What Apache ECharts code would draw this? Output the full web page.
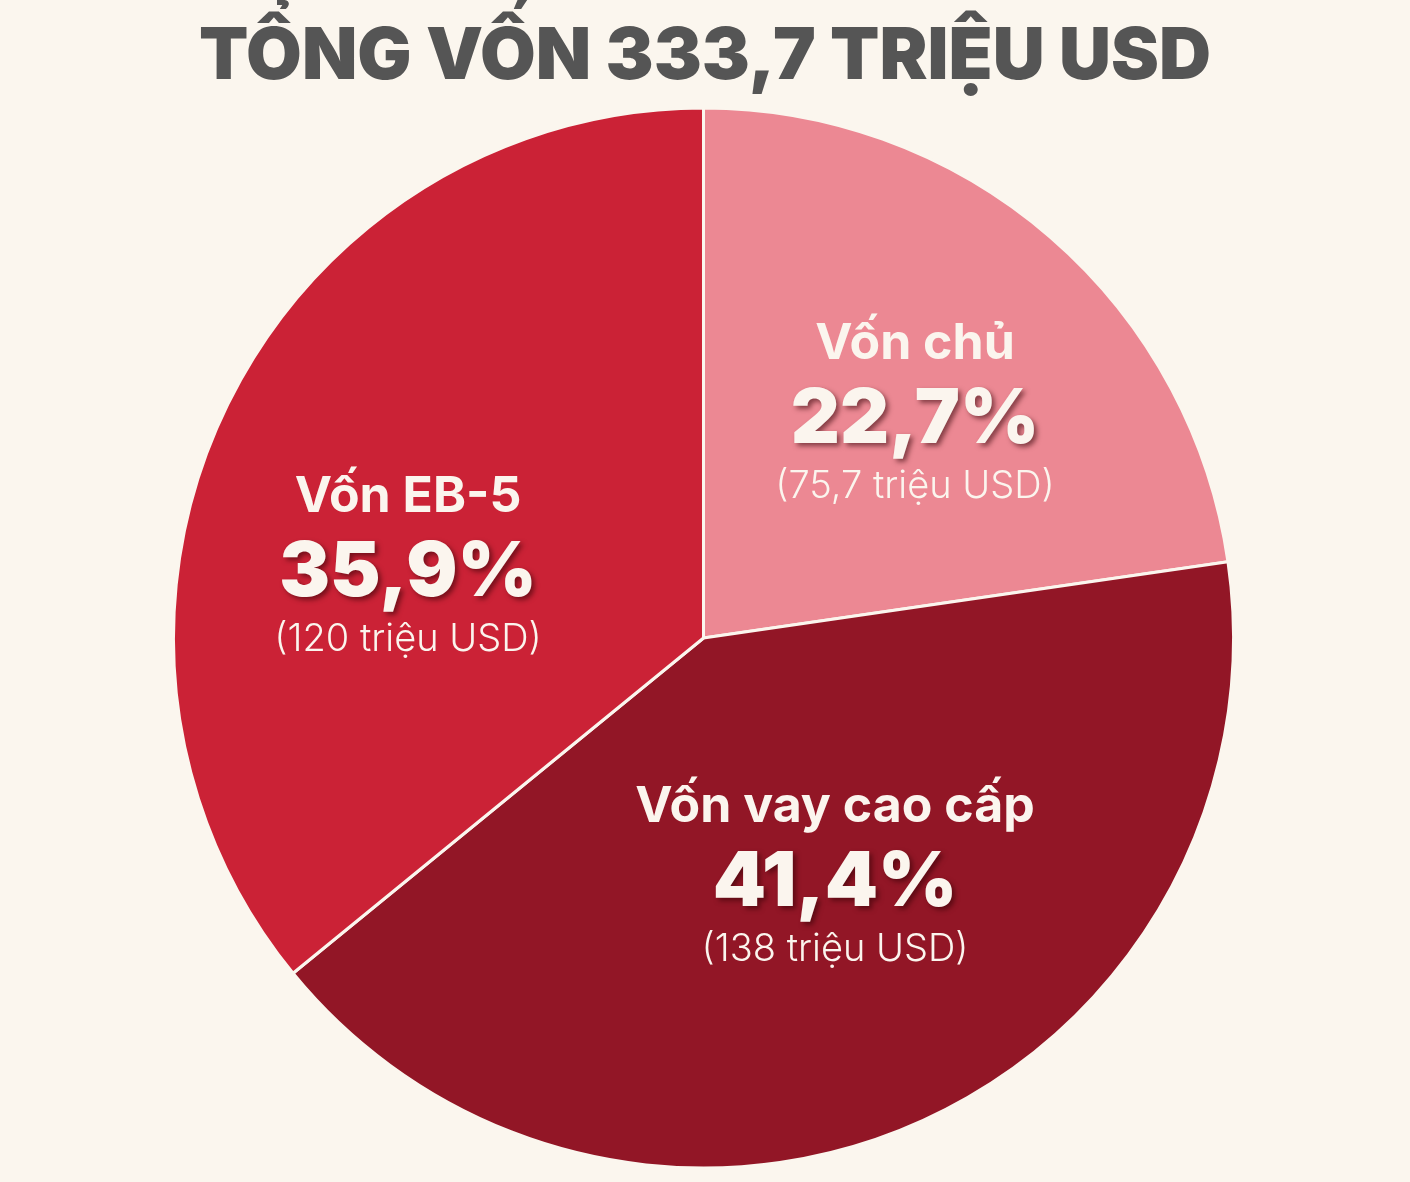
<!DOCTYPE html>
<html>
<head>
<meta charset="utf-8">
<script src="https://cdn.jsdelivr.net/npm/echarts@6/dist/echarts.min.js"></script>
<style>
html,body{margin:0;padding:0;background:#FBF6EE;}
#c{width:1410px;height:1182px;}
</style>
</head>
<body>
<div id="c"></div>
<script>
const titleText = 'TỔNG VỐN 333,7 TRIỆU USD';
const categories = ['Vốn chủ', 'Vốn vay cao cấp', 'Vốn EB-5'];
const percents = [22.7, 41.4, 35.9];
const amounts = ['75,7', '138', '120'];
const colors = ['#EC8893', '#921626', '#CB2236'];
// label anchor positions (layout only)
const labelPos = [[915, 411], [835, 874], [408, 564]];

const FONT = 'Inter, "Noto Sans", sans-serif';
const chart = echarts.init(document.getElementById('c'));
chart.setOption({
  backgroundColor: '#FBF6EE',
  animation: false,
  title: {
    text: titleText,
    left: 'center',
    top: 16,
    textStyle: { fontFamily: FONT, fontSize: 72, fontWeight: 900, color: '#555555' }
  },
  series: [{
    type: 'pie',
    center: [703.5, 638],
    radius: 530,
    startAngle: 90,
    clockwise: true,
    silent: true,
    data: categories.map((n, i) => ({
      name: n,
      value: percents[i],
      itemStyle: { color: colors[i] }
    })),
    itemStyle: { borderColor: '#FBF6EE', borderWidth: 3 },
    label: {
      show: true,
      position: 'inside',
      color: '#FBF5EE',
      fontFamily: FONT,
      align: 'center',
      formatter: p => '{name|' + p.name + '}\n{pct|' + String(percents[p.dataIndex]).replace('.', ',') + '%}\n{sub|(' + amounts[p.dataIndex] + ' triệu USD)}',
      rich: {
        name: { fontFamily: FONT, fontSize: 50, fontWeight: 700, lineHeight: 78, color: '#FBF5EE', align: 'center' },
        pct: { fontFamily: FONT, fontSize: 76, fontWeight: 900, lineHeight: 74, color: '#FBF5EE', align: 'center',
               textShadowColor: 'rgba(50,0,5,0.55)', textShadowBlur: 5, textShadowOffsetX: 3, textShadowOffsetY: 3 },
        sub: { fontFamily: FONT, fontSize: 38, fontWeight: 300, lineHeight: 60, color: '#FBF5EE', align: 'center' }
      }
    },
    labelLine: { show: false },
    labelLayout: p => ({ x: labelPos[p.dataIndex][0], y: labelPos[p.dataIndex][1], align: 'center', verticalAlign: 'middle' })
  }]
});
</script>
</body>
</html>
